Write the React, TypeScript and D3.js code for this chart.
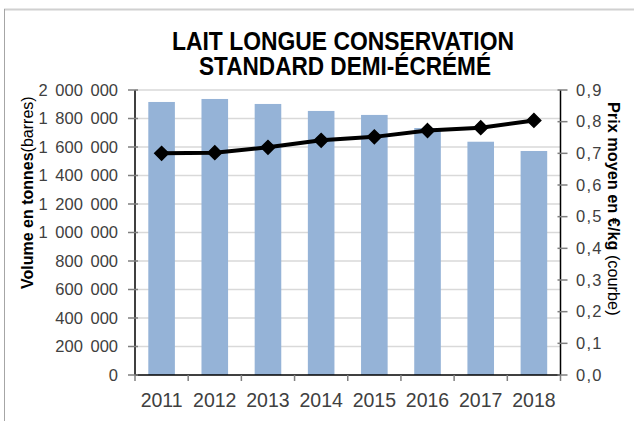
import React from 'react';
import * as d3 from 'd3';

const years = ['2011', '2012', '2013', '2014', '2015', '2016', '2017', '2018'];
const volumes = [1916000, 1937000, 1902000, 1853000, 1825000, 1733000, 1637000, 1572000];
const prices = [0.700, 0.702, 0.719, 0.741, 0.752, 0.772, 0.781, 0.804];
const leftTicks = [0, 200000, 400000, 600000, 800000, 1000000, 1200000, 1400000, 1600000, 1800000, 2000000];
const rightTicks = [0, 0.1, 0.2, 0.3, 0.4, 0.5, 0.6, 0.7, 0.8, 0.9];
const titleLines = ['LAIT LONGUE CONSERVATION', 'STANDARD DEMI-ÉCRÉMÉ'];

const W = 634;
const H = 421;
const left = 135;
const right = 560.5;
const top = 90;
const bottom = 375;
const FONT = '"Liberation Sans", Arial, Helvetica, sans-serif';

export default function App() {
  const x = d3.scaleBand<string>().domain(years).range([left, right]).padding(0);
  const yL = d3.scaleLinear().domain([0, 2000000]).range([bottom, top]);
  const yR = d3.scaleLinear().domain([0, 0.9]).range([bottom, top]);
  const bw = x.bandwidth();
  const barW = bw * 0.5;
  const fmtL = (v: number) => d3.format(',')(v).replace(/,/g, ' ');
  const fmtR = (v: number) => d3.format('.1f')(v).replace('.', ',');
  const line = d3
    .line<number>()
    .x((_, i) => (x(years[i]) as number) + bw / 2)
    .y((d) => yR(d));
  const diamond = d3.symbol().type(d3.symbolDiamond2).size(120)();
  const boundaries = [...years.map((y) => x(y) as number), right];

  return (
    <svg width={W} height={H} style={{ position: 'absolute', left: 0, top: 0 }} fontFamily={FONT}>
      <rect x={0} y={0} width={W} height={H} fill="#fff" />
      <line x1={4} y1={9.5} x2={W} y2={9.5} stroke="#d0d0d0" strokeWidth={2} />
      <line x1={4.5} y1={9} x2={4.5} y2={H} stroke="#a6a6a6" strokeWidth={1} />

      {/* title */}
      <text x={343} y={50} textAnchor="middle" fontSize={25} fontWeight="bold" fill="#000"
        textLength={342} lengthAdjust="spacingAndGlyphs">{titleLines[0]}</text>
      <text x={345} y={75} textAnchor="middle" fontSize={25} fontWeight="bold" fill="#000"
        textLength={292} lengthAdjust="spacingAndGlyphs">{titleLines[1]}</text>

      {/* gridlines */}
      {leftTicks.filter((t) => t > 0).map((t) => (
        <line key={'g' + t} x1={left} x2={right} y1={yL(t)} y2={yL(t)} stroke="#d9d9d9" strokeWidth={1.5} />
      ))}

      {/* bars */}
      {volumes.map((v, i) => (
        <rect key={'b' + i} x={(x(years[i]) as number) + (bw - barW) / 2} y={yL(v)} width={barW}
          height={bottom - yL(v)} fill="#95b3d7" />
      ))}

      {/* axes */}
      <line x1={left} x2={left} y1={top} y2={bottom} stroke="#000" strokeWidth={1.5} />
      <line x1={right} x2={right} y1={top} y2={bottom} stroke="#000" strokeWidth={1.5} />
      <line x1={left} x2={right} y1={bottom} y2={bottom} stroke="#000" strokeWidth={1.5} />

      {leftTicks.map((t) => (
        <g key={'lt' + t}>
          <line x1={left - 7} x2={left + 3} y1={yL(t)} y2={yL(t)} stroke="#7f7f7f" strokeWidth={1.5} />
          <text x={118} y={yL(t) + 5.5} textAnchor="end" fontSize={16.5} fill="#404040"
            style={{ wordSpacing: '3px' }}>{fmtL(t)}</text>
        </g>
      ))}
      {rightTicks.map((t) => (
        <g key={'rt' + t}>
          <line x1={right - 3} x2={right + 7} y1={yR(t)} y2={yR(t)} stroke="#7f7f7f" strokeWidth={1.5} />
          <text x={576} y={yR(t) + 5.5} textAnchor="start" fontSize={16.5} fill="#404040"
            letterSpacing={1.2}>{fmtR(t)}</text>
        </g>
      ))}
      {boundaries.map((b, i) => (
        <line key={'xt' + i} x1={b} x2={b} y1={bottom} y2={bottom + 6} stroke="#7f7f7f" strokeWidth={1.5} />
      ))}
      {years.map((y) => (
        <text key={'xl' + y} x={(x(y) as number) + bw / 2} y={406.5} textAnchor="middle" fontSize={19.5}
          fill="#404040">{y}</text>
      ))}

      {/* line series */}
      <path d={line(prices) || ''} fill="none" stroke="#000" strokeWidth={4} strokeLinejoin="round" />
      {prices.map((p, i) => (
        <path key={'m' + i} d={diamond || ''}
          transform={`translate(${(x(years[i]) as number) + bw / 2},${yR(p)})`} fill="#000"
          stroke="#000" strokeWidth={1.5} strokeLinejoin="miter" />
      ))}

      {/* axis titles */}
      <text transform="translate(33,289) rotate(-90)" fontSize={16} fill="#000">
        <tspan fontWeight="bold">Volume en tonnes</tspan>
        <tspan>(barres)</tspan>
      </text>
      <text transform="translate(608,102) rotate(90)" fontSize={16.3} fill="#000">
        <tspan fontWeight="bold">Prix moyen en €/kg</tspan>
        <tspan> (courbe)</tspan>
      </text>
    </svg>
  );
}
